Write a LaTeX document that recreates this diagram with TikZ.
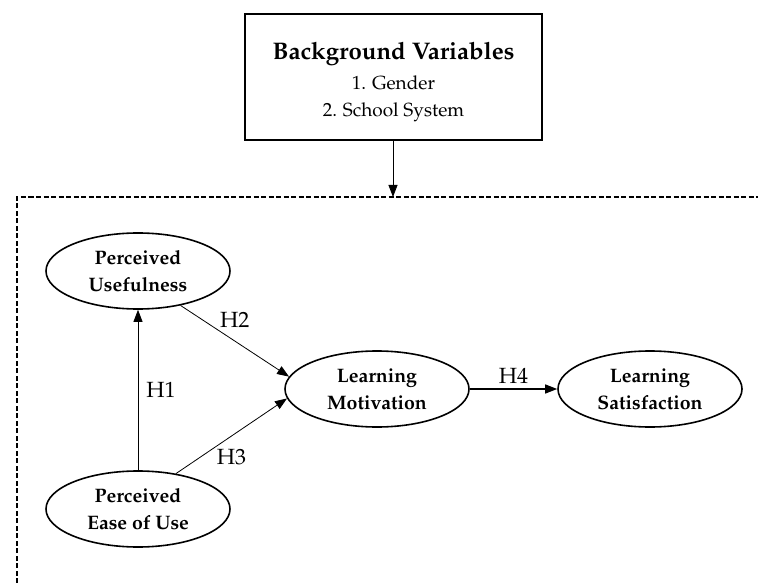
\documentclass[tikz,border=0pt]{standalone}
\usepackage[T1]{fontenc}
\usepackage{mathpazo}
\usetikzlibrary{shapes,arrows.meta}

\begin{document}
\begin{tikzpicture}[x=1pt,y=-1pt,
    construct/.style={draw, ellipse, line width=1.6pt, minimum width=184pt,
      minimum height=76pt, inner sep=0pt, align=center,
      font=\fontsize{19.5}{27}\selectfont\bfseries},
    hypo/.style={-{Triangle[length=12pt,width=9pt]}, line width=0.8pt},
    hlabel/.style={font=\fontsize{22}{24}\selectfont, inner sep=2pt}]

  \useasboundingbox (0,0) rectangle (758,583);

  \def\studyframe{(17,583) -- (17,197) -- (758,197)}

  % background variables
  \node[draw, line width=1.6pt, minimum width=297pt, minimum height=126pt]
    (bgvars) at (393.5,77) {};
  \node[align=center, font=\fontsize{19}{27}\selectfont] (bgtext)
    at ([yshift=-5pt]bgvars.center)
    {{\fontsize{24}{28}\selectfont\bfseries Background Variables}\\[3pt]
     1. Gender\\ 2. School System};

  \draw[line width=1.3pt, dash pattern=on 5pt off 2.5pt] \studyframe;
  \coordinate (frametop) at (393,197);
  \draw[hypo] (bgvars.south -| frametop) -- (frametop);

  % constructs
  \node[construct] (pu)  at (138,271) {Perceived\\Usefulness};
  \node[construct] (peu) at (138,509) {Perceived\\Ease of Use};
  \node[construct] (lm)  at (377,389) {Learning\\Motivation};
  \node[construct] (ls)  at (650,389) {Learning\\Satisfaction};

  % hypotheses
  \draw[hypo] (peu.north) -- node[hlabel, midway, right=6pt] {H1} (pu.south);
  \draw[hypo] (pu.-39) -- node[hlabel, midway, above=11pt] {H2} (lm.172);
  \draw[hypo] (peu.43) -- node[hlabel, midway, below=11pt] {H3} (lm.186);
  \draw[hypo, line width=1.3pt] (lm.east) -- node[hlabel, midway, above=3pt] {H4} (ls.west);

\end{tikzpicture}
\end{document}
